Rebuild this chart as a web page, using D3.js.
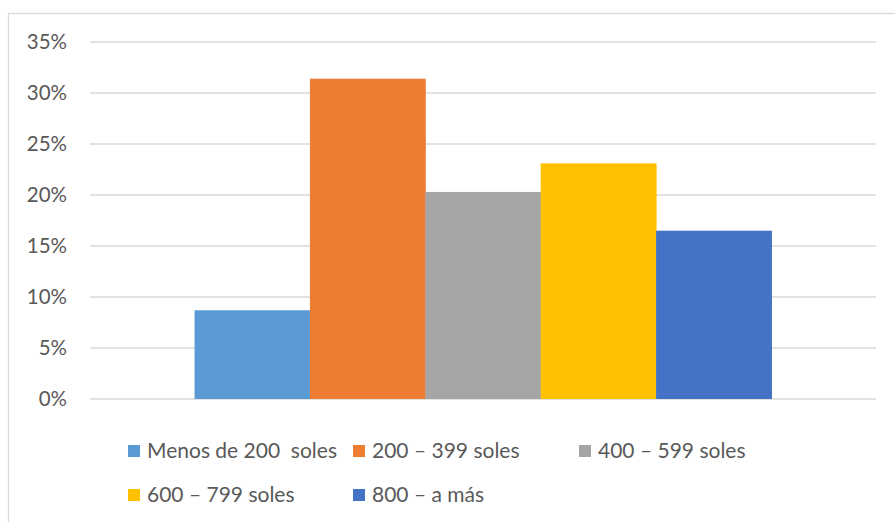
<!DOCTYPE html>
<html>
<head>
<meta charset="utf-8">
<script src="https://cdn.jsdelivr.net/npm/d3@7/dist/d3.min.js"></script>
<style>
  html, body { margin: 0; padding: 0; background: #ffffff; }
  svg { display: block; }
  text { font-family: Lato, "Open Sans", sans-serif; fill: #595959; }
</style>
</head>
<body>
<svg id="chart" width="895" height="522"></svg>
<script>
// Income brackets and their share of respondents
const categories = ["Menos de 200  soles", "200 – 399 soles", "400 – 599 soles", "600 – 799 soles", "800 – a más"];
const values = [0.087, 0.314, 0.203, 0.231, 0.165];
const colors = ["#5b9bd5", "#ed7d31", "#a5a5a5", "#ffc000", "#4472c4"];
const yTicks = [0, 0.05, 0.10, 0.15, 0.20, 0.25, 0.30, 0.35];

const svg = d3.select("#chart");
const W = 895, H = 522;

// outer chart frame (runs off the right and bottom edges)
svg.append("rect")
  .attr("x", 8.5).attr("y", 13.5)
  .attr("width", W).attr("height", H)
  .attr("fill", "none").attr("stroke", "#d9d9d9").attr("stroke-width", 1.3);

const plot = { left: 90, right: 876, top: 42, bottom: 399 };

const y = d3.scaleLinear().domain([0, 0.35]).range([plot.bottom, plot.top]);

// single category group with gap on both sides
const gapRatio = 0.133;
const groupW = plot.right - plot.left;
const x = d3.scaleBand()
  .domain(categories)
  .range([plot.left + groupW * gapRatio, plot.right - groupW * gapRatio])
  .padding(0);

// gridlines
svg.append("g")
  .selectAll("line")
  .data(yTicks)
  .join("line")
  .attr("x1", plot.left).attr("x2", plot.right)
  .attr("y1", d => y(d)).attr("y2", d => y(d))
  .attr("stroke", "#d9d9d9").attr("stroke-width", 1.3);

// y axis labels
const yAxis = d3.axisLeft(y)
  .tickValues(yTicks)
  .tickFormat(d3.format(".0%"))
  .tickSize(0)
  .tickPadding(0);
const gy = svg.append("g")
  .attr("transform", "translate(67,0)")
  .call(yAxis);
gy.select(".domain").remove();
gy.selectAll("text")
  .attr("font-family", "Lato, 'Open Sans', sans-serif")
  .attr("font-size", 20.5)
  .attr("fill", "#595959");

// bars
svg.append("g")
  .selectAll("rect")
  .data(categories)
  .join("rect")
  .attr("x", d => x(d))
  .attr("width", x.bandwidth() + 0.5)
  .attr("y", (d, i) => y(values[i]))
  .attr("height", (d, i) => y(0) - y(values[i]))
  .attr("fill", (d, i) => colors[i]);

// legend
const legendPos = [
  { x: 128, y: 451 }, { x: 353, y: 451 }, { x: 579, y: 451 },
  { x: 128, y: 495 }, { x: 353, y: 495 }
];
const lg = svg.append("g")
  .selectAll("g")
  .data(categories)
  .join("g")
  .attr("transform", (d, i) => `translate(${legendPos[i].x},${legendPos[i].y})`);
lg.append("rect")
  .attr("x", 0).attr("y", -6)
  .attr("width", 12).attr("height", 12)
  .attr("fill", (d, i) => colors[i]);
lg.append("text")
  .attr("x", 19).attr("y", 0)
  .attr("dy", "0.35em")
  .attr("font-size", 21)
  .attr("xml:space", "preserve")
  .style("white-space", "pre")
  .text(d => d);
</script>
</body>
</html>
